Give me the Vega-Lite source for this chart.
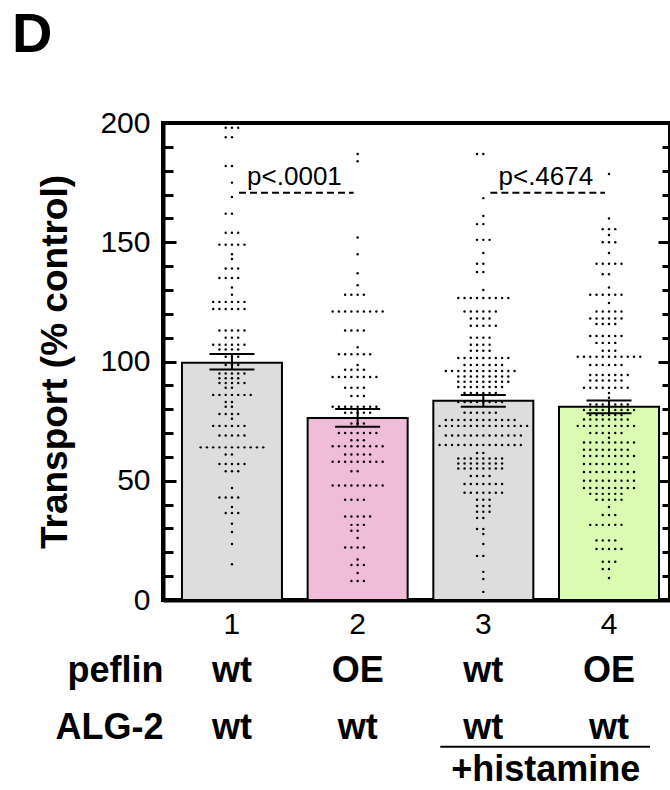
{
  "$schema": "https://vega.github.io/schema/vega-lite/v6.json",
  "autosize": {"type": "none"},
  "padding": {"left": 163, "top": 123, "right": 0, "bottom": 190},
  "width": 507,
  "height": 477,
  "title": {"text": "D", "anchor": "start", "frame": "group", "fontSize": 56, "fontWeight": "bold", "font": "Liberation Sans", "color": "black", "dx": -151, "offset": 0, "baseline": "alphabetic"},
  "config": {
    "font": "Liberation Sans",
    "view": {"stroke": "black", "strokeWidth": 4},
    "axis": {"labelColor": "black", "titleColor": "black", "grid": false, "labelFont": "Liberation Sans", "titleFont": "Liberation Sans", "tickColor": "black", "domainColor": "black"}
  },
  "datasets": {
    "bars": [
      {"g": 1, "mean": 99.5, "lo": 96.6, "hi": 103.1},
      {"g": 2, "mean": 76.3, "lo": 72.6, "hi": 80.1},
      {"g": 3, "mean": 83.5, "lo": 81.0, "hi": 86.0},
      {"g": 4, "mean": 81.0, "lo": 78.3, "hi": 83.6}
    ],
    "pvals": [
      {"from": 1, "to": 2, "y": 170.8, "label": "p<.0001"},
      {"from": 3, "to": 4, "y": 170.8, "label": "p<.4674"}
    ],
    "hist": [{"from": 3, "to": 4}],
    "dots": [
      {"g":1,"v":198},{"g":1,"v":198},{"g":1,"v":198},{"g":1,"v":194},{"g":1,"v":194},
      {"g":1,"v":182},{"g":1,"v":182},{"g":1,"v":175},{"g":1,"v":169},{"g":1,"v":162},{"g":1,"v":162},
      {"g":1,"v":154},{"g":1,"v":154},{"g":1,"v":154},
      {"g":1,"v":149},{"g":1,"v":149},{"g":1,"v":149},{"g":1,"v":149},{"g":1,"v":149},
      {"g":1,"v":145},{"g":1,"v":143},{"g":1,"v":139},{"g":1,"v":139},{"g":1,"v":139},
      {"g":1,"v":135},{"g":1,"v":135},{"g":1,"v":135},{"g":1,"v":135},{"g":1,"v":131},{"g":1,"v":128},
      {"g":1,"v":125},{"g":1,"v":125},{"g":1,"v":125},{"g":1,"v":125},{"g":1,"v":125},{"g":1,"v":125},
      {"g":1,"v":122},{"g":1,"v":122},{"g":1,"v":122},{"g":1,"v":122},{"g":1,"v":122},{"g":1,"v":122},
      {"g":1,"v":113},{"g":1,"v":113},{"g":1,"v":113},{"g":1,"v":113},{"g":1,"v":113},
      {"g":1,"v":110},{"g":1,"v":110},{"g":1,"v":110},
      {"g":1,"v":107},{"g":1,"v":107},{"g":1,"v":107},{"g":1,"v":107},{"g":1,"v":107},{"g":1,"v":107},
      {"g":1,"v":105},{"g":1,"v":105},{"g":1,"v":105},{"g":1,"v":105},
      {"g":1,"v":102},{"g":1,"v":102},{"g":1,"v":102},{"g":1,"v":98.5},{"g":1,"v":98.5},{"g":1,"v":98.5},
      {"g":1,"v":95},{"g":1,"v":95},{"g":1,"v":95},{"g":1,"v":95},{"g":1,"v":95},
      {"g":1,"v":93},{"g":1,"v":93},{"g":1,"v":93},{"g":1,"v":93},
      {"g":1,"v":91},{"g":1,"v":91},{"g":1,"v":91},{"g":1,"v":91},{"g":1,"v":91},{"g":1,"v":89},{"g":1,"v":89},
      {"g":1,"v":86},{"g":1,"v":86},{"g":1,"v":86},{"g":1,"v":86},{"g":1,"v":86},{"g":1,"v":86},{"g":1,"v":86},
      {"g":1,"v":83},{"g":1,"v":83},{"g":1,"v":81},{"g":1,"v":81},
      {"g":1,"v":78},{"g":1,"v":78},{"g":1,"v":78},{"g":1,"v":78},{"g":1,"v":76},
      {"g":1,"v":73},{"g":1,"v":73},{"g":1,"v":73},{"g":1,"v":73},{"g":1,"v":73},{"g":1,"v":73},
      {"g":1,"v":69},{"g":1,"v":69},{"g":1,"v":69},{"g":1,"v":69},{"g":1,"v":69},
      {"g":1,"v":64},{"g":1,"v":64},{"g":1,"v":64},{"g":1,"v":64},{"g":1,"v":64},{"g":1,"v":64},{"g":1,"v":64},{"g":1,"v":64},{"g":1,"v":64},{"g":1,"v":64},{"g":1,"v":64},
      {"g":1,"v":61},{"g":1,"v":61},
      {"g":1,"v":57},{"g":1,"v":57},{"g":1,"v":57},{"g":1,"v":57},{"g":1,"v":57},
      {"g":1,"v":54},{"g":1,"v":54},{"g":1,"v":54},{"g":1,"v":47},
      {"g":1,"v":43},{"g":1,"v":43},{"g":1,"v":43},{"g":1,"v":43},{"g":1,"v":39},
      {"g":1,"v":36.5},{"g":1,"v":36.5},{"g":1,"v":36.5},{"g":1,"v":32},{"g":1,"v":28.5},{"g":1,"v":23.5},{"g":1,"v":15},

      {"g":2,"v":187},{"g":2,"v":184},{"g":2,"v":152},{"g":2,"v":145},{"g":2,"v":137},{"g":2,"v":132},
      {"g":2,"v":128},{"g":2,"v":128},{"g":2,"v":128},{"g":2,"v":128},
      {"g":2,"v":121},{"g":2,"v":121},{"g":2,"v":121},{"g":2,"v":121},{"g":2,"v":121},{"g":2,"v":121},{"g":2,"v":121},{"g":2,"v":121},{"g":2,"v":121},
      {"g":2,"v":113},{"g":2,"v":113},{"g":2,"v":113},{"g":2,"v":113},{"g":2,"v":106},
      {"g":2,"v":103},{"g":2,"v":103},{"g":2,"v":103},{"g":2,"v":103},{"g":2,"v":103},{"g":2,"v":103},
      {"g":2,"v":98.5},{"g":2,"v":96.5},{"g":2,"v":96.5},{"g":2,"v":96.5},{"g":2,"v":96.5},
      {"g":2,"v":93.5},{"g":2,"v":93.5},{"g":2,"v":93.5},{"g":2,"v":93.5},{"g":2,"v":93.5},{"g":2,"v":93.5},{"g":2,"v":93.5},{"g":2,"v":93.5},
      {"g":2,"v":89},{"g":2,"v":89},{"g":2,"v":89},{"g":2,"v":89},
      {"g":2,"v":85.5},{"g":2,"v":85.5},{"g":2,"v":85.5},
      {"g":2,"v":81},{"g":2,"v":81},{"g":2,"v":81},{"g":2,"v":81},{"g":2,"v":81},{"g":2,"v":81},{"g":2,"v":81},{"g":2,"v":81},
      {"g":2,"v":78.5},{"g":2,"v":78.5},{"g":2,"v":78.5},{"g":2,"v":78.5},{"g":2,"v":78.5},
      {"g":2,"v":74},{"g":2,"v":74},{"g":2,"v":74},
      {"g":2,"v":70},{"g":2,"v":70},{"g":2,"v":70},{"g":2,"v":70},{"g":2,"v":70},{"g":2,"v":70},{"g":2,"v":70},
      {"g":2,"v":67},{"g":2,"v":67},{"g":2,"v":67},
      {"g":2,"v":64.5},{"g":2,"v":64.5},{"g":2,"v":64.5},{"g":2,"v":64.5},{"g":2,"v":64.5},{"g":2,"v":64.5},{"g":2,"v":64.5},{"g":2,"v":64.5},{"g":2,"v":64.5},
      {"g":2,"v":61},{"g":2,"v":61},{"g":2,"v":61},{"g":2,"v":61},{"g":2,"v":61},
      {"g":2,"v":58},{"g":2,"v":58},{"g":2,"v":58},{"g":2,"v":58},{"g":2,"v":58},{"g":2,"v":58},{"g":2,"v":58},{"g":2,"v":58},{"g":2,"v":58},
      {"g":2,"v":54},{"g":2,"v":54},
      {"g":2,"v":48},{"g":2,"v":48},{"g":2,"v":48},{"g":2,"v":48},{"g":2,"v":48},{"g":2,"v":48},{"g":2,"v":48},{"g":2,"v":48},{"g":2,"v":48},
      {"g":2,"v":42},{"g":2,"v":42},{"g":2,"v":42},{"g":2,"v":42},
      {"g":2,"v":35},{"g":2,"v":35},{"g":2,"v":35},{"g":2,"v":35},{"g":2,"v":35},
      {"g":2,"v":31.5},{"g":2,"v":31.5},{"g":2,"v":31.5},{"g":2,"v":29},{"g":2,"v":29},{"g":2,"v":26},
      {"g":2,"v":22},{"g":2,"v":22},{"g":2,"v":22},{"g":2,"v":22},{"g":2,"v":17},
      {"g":2,"v":14.7},{"g":2,"v":14.7},{"g":2,"v":14.7},{"g":2,"v":11.3},{"g":2,"v":8},{"g":2,"v":8},{"g":2,"v":8},

      {"g":3,"v":187},{"g":3,"v":187},{"g":3,"v":168.5},{"g":3,"v":161},{"g":3,"v":157.6},{"g":3,"v":157.6},
      {"g":3,"v":151},{"g":3,"v":151},{"g":3,"v":151},{"g":3,"v":145.5},{"g":3,"v":141},{"g":3,"v":141},
      {"g":3,"v":137.5},{"g":3,"v":137.5},{"g":3,"v":130},
      {"g":3,"v":126.6},{"g":3,"v":126.6},{"g":3,"v":126.6},{"g":3,"v":126.6},{"g":3,"v":126.6},{"g":3,"v":126.6},{"g":3,"v":126.6},{"g":3,"v":126.6},{"g":3,"v":126.6},
      {"g":3,"v":121},{"g":3,"v":121},{"g":3,"v":121},{"g":3,"v":121},{"g":3,"v":121},{"g":3,"v":121},
      {"g":3,"v":118},{"g":3,"v":118},{"g":3,"v":118},{"g":3,"v":118},
      {"g":3,"v":115},{"g":3,"v":115},{"g":3,"v":115},{"g":3,"v":115},{"g":3,"v":115},
      {"g":3,"v":110},{"g":3,"v":110},{"g":3,"v":110},{"g":3,"v":110},
      {"g":3,"v":107},{"g":3,"v":107},{"g":3,"v":107},{"g":3,"v":107},
      {"g":3,"v":104.5},{"g":3,"v":104.5},{"g":3,"v":104.5},{"g":3,"v":104.5},
      {"g":3,"v":101.5},{"g":3,"v":101.5},{"g":3,"v":101.5},{"g":3,"v":101.5},{"g":3,"v":101.5},{"g":3,"v":101.5},{"g":3,"v":101.5},{"g":3,"v":101.5},{"g":3,"v":101.5},
      {"g":3,"v":98.5},{"g":3,"v":98.5},{"g":3,"v":98.5},{"g":3,"v":98.5},{"g":3,"v":98.5},{"g":3,"v":98.5},{"g":3,"v":98.5},
      {"g":3,"v":96},{"g":3,"v":96},{"g":3,"v":96},{"g":3,"v":96},{"g":3,"v":96},{"g":3,"v":96},{"g":3,"v":96},{"g":3,"v":96},{"g":3,"v":96},{"g":3,"v":96},{"g":3,"v":96},{"g":3,"v":96},
      {"g":3,"v":93.7},{"g":3,"v":93.7},{"g":3,"v":93.7},{"g":3,"v":93.7},{"g":3,"v":93.7},{"g":3,"v":93.7},{"g":3,"v":93.7},{"g":3,"v":93.7},{"g":3,"v":93.7},
      {"g":3,"v":91.5},{"g":3,"v":91.5},{"g":3,"v":91.5},{"g":3,"v":91.5},{"g":3,"v":91.5},{"g":3,"v":91.5},{"g":3,"v":91.5},{"g":3,"v":91.5},{"g":3,"v":91.5},
      {"g":3,"v":89.3},{"g":3,"v":89.3},{"g":3,"v":89.3},{"g":3,"v":89.3},{"g":3,"v":89.3},{"g":3,"v":89.3},{"g":3,"v":89.3},{"g":3,"v":89.3},
      {"g":3,"v":86.8},{"g":3,"v":86.8},{"g":3,"v":86.8},{"g":3,"v":86.8},{"g":3,"v":86.8},{"g":3,"v":86.8},
      {"g":3,"v":83},{"g":3,"v":83},{"g":3,"v":83},{"g":3,"v":83},{"g":3,"v":83},{"g":3,"v":83},{"g":3,"v":83},{"g":3,"v":83},
      {"g":3,"v":78.5},{"g":3,"v":78.5},{"g":3,"v":78.5},{"g":3,"v":78.5},{"g":3,"v":78.5},{"g":3,"v":78.5},
      {"g":3,"v":75.5},{"g":3,"v":75.5},{"g":3,"v":75.5},{"g":3,"v":75.5},{"g":3,"v":75.5},{"g":3,"v":75.5},{"g":3,"v":75.5},{"g":3,"v":75.5},{"g":3,"v":75.5},{"g":3,"v":75.5},{"g":3,"v":75.5},{"g":3,"v":75.5},
      {"g":3,"v":73},{"g":3,"v":73},{"g":3,"v":73},{"g":3,"v":73},{"g":3,"v":73},{"g":3,"v":73},{"g":3,"v":73},{"g":3,"v":73},{"g":3,"v":73},{"g":3,"v":73},{"g":3,"v":73},{"g":3,"v":73},{"g":3,"v":73},{"g":3,"v":73},{"g":3,"v":73},
      {"g":3,"v":69},{"g":3,"v":69},{"g":3,"v":69},{"g":3,"v":69},{"g":3,"v":69},{"g":3,"v":69},{"g":3,"v":69},{"g":3,"v":69},{"g":3,"v":69},{"g":3,"v":69},{"g":3,"v":69},{"g":3,"v":69},{"g":3,"v":69},
      {"g":3,"v":65},{"g":3,"v":65},{"g":3,"v":65},{"g":3,"v":65},{"g":3,"v":65},{"g":3,"v":65},{"g":3,"v":65},{"g":3,"v":65},{"g":3,"v":65},{"g":3,"v":65},{"g":3,"v":65},{"g":3,"v":65},{"g":3,"v":65},{"g":3,"v":65},
      {"g":3,"v":61.6},{"g":3,"v":61.6},
      {"g":3,"v":59.3},{"g":3,"v":59.3},{"g":3,"v":59.3},{"g":3,"v":59.3},{"g":3,"v":59.3},{"g":3,"v":59.3},{"g":3,"v":59.3},{"g":3,"v":59.3},
      {"g":3,"v":57.2},{"g":3,"v":57.2},{"g":3,"v":57.2},{"g":3,"v":57.2},{"g":3,"v":57.2},{"g":3,"v":57.2},{"g":3,"v":57.2},{"g":3,"v":57.2},
      {"g":3,"v":55.1},{"g":3,"v":55.1},{"g":3,"v":55.1},{"g":3,"v":55.1},{"g":3,"v":55.1},{"g":3,"v":55.1},{"g":3,"v":55.1},{"g":3,"v":55.1},
      {"g":3,"v":52},{"g":3,"v":52},{"g":3,"v":52},{"g":3,"v":52},
      {"g":3,"v":48.6},{"g":3,"v":48.6},{"g":3,"v":48.6},{"g":3,"v":48.6},{"g":3,"v":48.6},{"g":3,"v":48.6},{"g":3,"v":48.6},
      {"g":3,"v":45},{"g":3,"v":45},{"g":3,"v":45},{"g":3,"v":45},{"g":3,"v":45},{"g":3,"v":45},{"g":3,"v":45},
      {"g":3,"v":42},{"g":3,"v":42},{"g":3,"v":42},{"g":3,"v":39.4},{"g":3,"v":39.4},{"g":3,"v":39.4},
      {"g":3,"v":37},{"g":3,"v":37},{"g":3,"v":37},{"g":3,"v":34.4},{"g":3,"v":34.4},
      {"g":3,"v":29.8},{"g":3,"v":29.8},{"g":3,"v":27.7},{"g":3,"v":23.5},{"g":3,"v":18.5},{"g":3,"v":18.5},
      {"g":3,"v":11.8},{"g":3,"v":8.8},{"g":3,"v":3.4},

      {"g":4,"v":178.6},{"g":4,"v":160},{"g":4,"v":155.5},{"g":4,"v":155.5},{"g":4,"v":155.5},{"g":4,"v":153},
      {"g":4,"v":150},{"g":4,"v":150},{"g":4,"v":150},{"g":4,"v":145.5},
      {"g":4,"v":141},{"g":4,"v":141},{"g":4,"v":141},{"g":4,"v":141},{"g":4,"v":141},
      {"g":4,"v":136.6},{"g":4,"v":136.6},{"g":4,"v":131},
      {"g":4,"v":128},{"g":4,"v":128},{"g":4,"v":128},{"g":4,"v":128},{"g":4,"v":128},{"g":4,"v":128},{"g":4,"v":124.5},
      {"g":4,"v":121},{"g":4,"v":121},{"g":4,"v":121},{"g":4,"v":121},{"g":4,"v":121},
      {"g":4,"v":118},{"g":4,"v":118},{"g":4,"v":118},{"g":4,"v":118},{"g":4,"v":118},{"g":4,"v":118},
      {"g":4,"v":115.7},{"g":4,"v":115.7},{"g":4,"v":115.7},{"g":4,"v":115.7},
      {"g":4,"v":110.7},{"g":4,"v":110.7},{"g":4,"v":110.7},{"g":4,"v":110.7},{"g":4,"v":110.7},{"g":4,"v":110.7},
      {"g":4,"v":107.8},{"g":4,"v":107.8},{"g":4,"v":107.8},{"g":4,"v":107.8},
      {"g":4,"v":104.5},{"g":4,"v":104.5},{"g":4,"v":104.5},
      {"g":4,"v":102},{"g":4,"v":102},{"g":4,"v":102},{"g":4,"v":102},{"g":4,"v":102},{"g":4,"v":102},{"g":4,"v":102},{"g":4,"v":102},{"g":4,"v":102},{"g":4,"v":102},{"g":4,"v":102},
      {"g":4,"v":98.5},{"g":4,"v":98.5},{"g":4,"v":98.5},{"g":4,"v":98.5},{"g":4,"v":98.5},{"g":4,"v":98.5},
      {"g":4,"v":94.3},{"g":4,"v":94.3},{"g":4,"v":94.3},{"g":4,"v":94.3},{"g":4,"v":94.3},{"g":4,"v":94.3},{"g":4,"v":94.3},
      {"g":4,"v":92},{"g":4,"v":92},{"g":4,"v":92},{"g":4,"v":92},{"g":4,"v":92},{"g":4,"v":92},
      {"g":4,"v":89},{"g":4,"v":89},{"g":4,"v":89},{"g":4,"v":89},{"g":4,"v":89},{"g":4,"v":89},{"g":4,"v":89},{"g":4,"v":89},
      {"g":4,"v":86.8},{"g":4,"v":84.8},
      {"g":4,"v":82},{"g":4,"v":82},{"g":4,"v":82},{"g":4,"v":82},{"g":4,"v":82},{"g":4,"v":82},{"g":4,"v":82},
      {"g":4,"v":79.7},{"g":4,"v":79.7},{"g":4,"v":79.7},{"g":4,"v":79.7},{"g":4,"v":79.7},{"g":4,"v":79.7},{"g":4,"v":79.7},{"g":4,"v":79.7},{"g":4,"v":79.7},
      {"g":4,"v":77.6},{"g":4,"v":77.6},{"g":4,"v":77.6},{"g":4,"v":77.6},{"g":4,"v":77.6},{"g":4,"v":77.6},
      {"g":4,"v":75.7},{"g":4,"v":75.7},{"g":4,"v":75.7},{"g":4,"v":75.7},{"g":4,"v":75.7},{"g":4,"v":75.7},{"g":4,"v":75.7},{"g":4,"v":75.7},
      {"g":4,"v":73},{"g":4,"v":73},{"g":4,"v":73},{"g":4,"v":73},{"g":4,"v":73},{"g":4,"v":73},{"g":4,"v":73},{"g":4,"v":73},{"g":4,"v":73},{"g":4,"v":73},
      {"g":4,"v":70},{"g":4,"v":70},{"g":4,"v":70},{"g":4,"v":70},{"g":4,"v":70},{"g":4,"v":70},{"g":4,"v":68},
      {"g":4,"v":66},{"g":4,"v":66},{"g":4,"v":66},{"g":4,"v":66},{"g":4,"v":66},{"g":4,"v":66},{"g":4,"v":66},{"g":4,"v":66},{"g":4,"v":66},
      {"g":4,"v":63},{"g":4,"v":63},{"g":4,"v":63},{"g":4,"v":63},{"g":4,"v":63},{"g":4,"v":63},{"g":4,"v":63},{"g":4,"v":63},
      {"g":4,"v":60.4},{"g":4,"v":60.4},{"g":4,"v":60.4},{"g":4,"v":60.4},{"g":4,"v":60.4},{"g":4,"v":60.4},{"g":4,"v":60.4},{"g":4,"v":60.4},{"g":4,"v":60.4},
      {"g":4,"v":57},{"g":4,"v":57},{"g":4,"v":57},{"g":4,"v":57},{"g":4,"v":57},{"g":4,"v":57},{"g":4,"v":57},{"g":4,"v":57},
      {"g":4,"v":53.7},{"g":4,"v":53.7},{"g":4,"v":53.7},{"g":4,"v":53.7},{"g":4,"v":53.7},{"g":4,"v":53.7},{"g":4,"v":53.7},{"g":4,"v":53.7},{"g":4,"v":53.7},
      {"g":4,"v":50},{"g":4,"v":50},{"g":4,"v":50},{"g":4,"v":50},{"g":4,"v":50},{"g":4,"v":50},{"g":4,"v":50},{"g":4,"v":50},{"g":4,"v":50},
      {"g":4,"v":47},{"g":4,"v":47},{"g":4,"v":47},{"g":4,"v":47},{"g":4,"v":47},{"g":4,"v":47},{"g":4,"v":47},{"g":4,"v":47},{"g":4,"v":47},
      {"g":4,"v":44.5},{"g":4,"v":44.5},{"g":4,"v":44.5},{"g":4,"v":44.5},{"g":4,"v":44.5},{"g":4,"v":44.5},
      {"g":4,"v":42},{"g":4,"v":42},{"g":4,"v":42},{"g":4,"v":42},{"g":4,"v":42},{"g":4,"v":39},
      {"g":4,"v":35.6},{"g":4,"v":35.6},{"g":4,"v":35.6},
      {"g":4,"v":31.5},{"g":4,"v":31.5},{"g":4,"v":31.5},{"g":4,"v":31.5},{"g":4,"v":31.5},{"g":4,"v":31.5},
      {"g":4,"v":25},{"g":4,"v":25},{"g":4,"v":25},{"g":4,"v":25},
      {"g":4,"v":21.4},{"g":4,"v":21.4},{"g":4,"v":21.4},{"g":4,"v":21.4},{"g":4,"v":21.4},
      {"g":4,"v":16},{"g":4,"v":16},{"g":4,"v":16},{"g":4,"v":13},{"g":4,"v":13},{"g":4,"v":9.2}
    ]
  },
  "layer": [
    {
      "data": {"name": "bars"},
      "mark": {"type": "bar", "stroke": "black", "strokeWidth": 2, "width": 100},
      "encoding": {
        "x": {"field": "g", "type": "nominal",
              "scale": {"type": "band", "paddingInner": 0.204, "paddingOuter": 0.119, "align": 0.633},
              "axis": {"orient": "bottom", "title": null, "domainWidth": 4, "ticks": false, "labelAngle": 0, "labelFontSize": 30, "labelPadding": 9}},
        "y": {"field": "mean", "type": "quantitative",
              "scale": {"domain": [0, 200], "nice": false},
              "axis": {"orient": "left", "values": [0, 50, 100, 150, 200], "tickSize": -13, "tickWidth": 3, "domainWidth": 4, "labelFontSize": 30, "labelPadding": 26,
                       "title": "Transport (% control)", "titleFontSize": 37, "titleFontWeight": "bold", "titlePadding": 25}},
        "fill": {"field": "g", "type": "nominal", "scale": {"domain": [1, 2, 3, 4], "range": ["#dcdddc", "#efbdd9", "#dcdddc", "#d9fcb0"]}, "legend": null}
      }
    },
    {
      "data": {"name": "dots"},
      "transform": [{"window": [{"op": "row_number", "as": "r"}], "groupby": ["g", "v"]}],
      "mark": {"type": "circle", "size": 6, "color": "black", "opacity": 1},
      "encoding": {
        "x": {"field": "g", "type": "nominal",
              "axis": {"orient": "bottom", "title": "peflin", "domain": false, "ticks": false, "labelAngle": 0,
                       "labelExpr": "datum.value == 2 || datum.value == 4 ? 'OE' : 'wt'",
                       "labelFontSize": 36, "labelFontWeight": "bold", "labelBaseline": "alphabetic", "labelPadding": 81,
                       "titleFontSize": 36, "titleFontWeight": "bold", "titleAlign": "right", "titleBaseline": "alphabetic", "titleAngle": 0, "titleX": 0, "titleY": 81}},
        "xOffset": {"field": "r", "type": "nominal", "scale": {"domain": [16, 14, 12, 10, 8, 6, 4, 2, 1, 3, 5, 7, 9, 11, 13, 15, 17], "paddingInner": 0, "paddingOuter": 0}},
        "y": {"field": "v", "type": "quantitative", "scale": {"domain": [0, 200], "nice": false},
              "axis": {"orient": "left", "values": [10, 20, 30, 40, 60, 70, 80, 90, 110, 120, 130, 140, 160, 170, 180, 190], "tickSize": -10, "tickWidth": 3, "domain": false, "labels": false, "title": null}}
      }
    },
    {
      "data": {"name": "bars"},
      "mark": {"type": "rule", "strokeWidth": 2, "color": "black"},
      "encoding": {
        "x": {"field": "g", "type": "nominal",
              "axis": {"orient": "bottom", "title": "ALG-2", "domain": false, "ticks": false, "labelAngle": 0,
                       "labelExpr": "'wt'", "labelFontSize": 36, "labelFontWeight": "bold", "labelBaseline": "alphabetic", "labelPadding": 138,
                       "titleFontSize": 36, "titleFontWeight": "bold", "titleAlign": "right", "titleBaseline": "alphabetic", "titleAngle": 0, "titleX": 0, "titleY": 138}},
        "y": {"field": "lo", "type": "quantitative", "scale": {"domain": [0, 200], "nice": false},
              "axis": {"orient": "right", "values": [0, 50, 100, 150, 200], "tickSize": -12, "tickWidth": 3, "domain": false, "labels": false, "title": null}},
        "y2": {"field": "hi"}
      }
    },
    {
      "data": {"name": "bars"},
      "transform": [{"fold": ["lo", "hi"], "as": ["k", "val"]}],
      "mark": {"type": "tick", "size": 45, "thickness": 2, "color": "black", "opacity": 1},
      "encoding": {
        "x": {"field": "g", "type": "nominal",
              "axis": {"orient": "bottom", "title": null, "domain": false, "ticks": false, "labelAngle": 0, "labelOverlap": false, "labelFlush": false, "labelLimit": 400,
                       "labelExpr": "datum.value == 3 ? '+histamine' : ''", "labelOffset": 62.5,
                       "labelFontSize": 36, "labelFontWeight": "bold", "labelBaseline": "alphabetic", "labelPadding": 180}},
        "y": {"field": "val", "type": "quantitative", "scale": {"domain": [0, 200], "nice": false},
              "axis": {"orient": "right", "values": [10, 20, 30, 40, 60, 70, 80, 90, 110, 120, 130, 140, 160, 170, 180, 190], "tickSize": -8, "tickWidth": 3, "domain": false, "labels": false, "title": null}}
      }
    },
    {
      "data": {"name": "pvals"},
      "mark": {"type": "rule", "strokeWidth": 2, "strokeDash": [7, 4], "color": "black"},
      "encoding": {
        "x": {"field": "from", "type": "nominal", "bandPosition": 0.57, "axis": null},
        "x2": {"field": "to", "bandPosition": 0.46},
        "y": {"field": "y", "type": "quantitative", "axis": null}
      }
    },
    {
      "data": {"name": "pvals"},
      "mark": {"type": "text", "fontSize": 26, "dy": -8, "baseline": "alphabetic", "align": "center", "color": "black"},
      "encoding": {
        "x": {"field": "from", "type": "nominal", "bandPosition": 1.125, "axis": null},
        "y": {"field": "y", "type": "quantitative", "axis": null},
        "text": {"field": "label"}
      }
    },
    {
      "data": {"name": "hist"},
      "mark": {"type": "rule", "strokeWidth": 2, "color": "black"},
      "encoding": {
        "x": {"field": "from", "type": "nominal", "bandPosition": 0.07, "axis": null},
        "x2": {"field": "to", "bandPosition": 0.91},
        "y": {"datum": -61.5, "type": "quantitative", "axis": null}
      }
    }
  ],
  "resolve": {"axis": {"x": "independent", "y": "independent"}}
}
